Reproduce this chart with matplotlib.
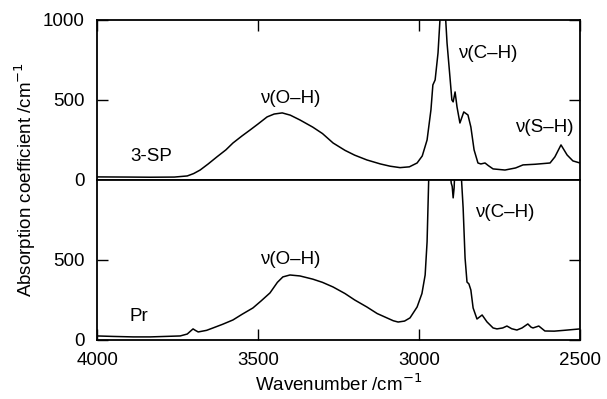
import matplotlib
matplotlib.use("Agg")
import matplotlib.pyplot as plt

plt.rcParams['font.family'] = ['Liberation Sans', 'DejaVu Sans']
plt.rcParams['font.size'] = 13.5

# 3-SP spectrum (wavenumber /cm-1, absorption coefficient /cm-1)
sp_x = [4000, 3900, 3835, 3760, 3720, 3700, 3680, 3655, 3628, 3600, 3578, 3550,
        3525, 3500, 3472, 3450, 3425, 3400, 3370, 3330, 3300, 3267, 3230, 3200,
        3162, 3120, 3090, 3059, 3030, 3006, 2990, 2975, 2963, 2957, 2950, 2941,
        2935, 2928, 2920, 2913, 2904, 2898, 2894, 2888, 2882, 2873, 2861, 2848,
        2839, 2829, 2817, 2808, 2795, 2785, 2770, 2733, 2700, 2677, 2640, 2593,
        2578, 2559, 2540, 2522, 2500]
sp_y = [19, 18, 17, 18, 25, 40, 62, 100, 144, 188, 231, 275,
        312, 350, 394, 412, 419, 405, 375, 330, 290, 231, 185, 155,
        125, 100, 86, 77, 82, 106, 150, 250, 438, 594, 625, 794,
        1000, 1150, 1100, 856, 644, 500, 488, 550, 456, 356, 425, 406,
        331, 188, 106, 100, 106, 90, 69, 62, 75, 94, 98, 106,
        144, 219, 156, 119, 106]

# Pr spectrum
pr_x = [4000, 3950, 3888, 3835, 3742, 3720, 3710, 3702, 3695, 3686, 3660, 3640,
        3610, 3578, 3550, 3516, 3490, 3463, 3440, 3423, 3401, 3370, 3330, 3300,
        3267, 3230, 3200, 3162, 3130, 3100, 3080, 3065, 3045, 3028, 3006, 2991,
        2981, 2975, 2970, 2960, 2905, 2900, 2897, 2894, 2891, 2888, 2875, 2868,
        2863, 2857, 2851, 2845, 2839, 2832, 2820, 2804, 2789, 2770, 2758, 2740,
        2727, 2712, 2696, 2680, 2662, 2652, 2646, 2628, 2609, 2580, 2550, 2500]
pr_y = [25, 22, 19, 19, 25, 37, 55, 69, 60, 50, 60, 75,
        98, 125, 160, 200, 245, 294, 360, 394, 406, 400, 380, 360,
        331, 290, 250, 206, 165, 138, 120, 112, 118, 138, 206, 290,
        406, 613, 1000, 1200, 1100, 980, 960, 888, 950, 1100, 1200, 1000,
        825, 512, 362, 350, 312, 200, 131, 156, 113, 75, 69, 75,
        87, 70, 62, 75, 100, 80, 75, 87, 56, 55, 60, 69]

fig = plt.figure(figsize=(6.07, 3.99), dpi=100)
ax1 = fig.add_axes([0.160, 0.549, 0.7955, 0.401])
ax2 = fig.add_axes([0.160, 0.148, 0.7955, 0.401], sharex=ax1)

ax1.plot(sp_x, sp_y, color='black', lw=1.1)
ax2.plot(pr_x, pr_y, color='black', lw=1.1)

for ax in (ax1, ax2):
    ax.set_xlim(4000, 2500)
    ax.set_ylim(0, 1000)
    ax.set_xticks([4000, 3500, 3000, 2500])
    for s in ax.spines.values():
        s.set_linewidth(1.3)
    ax.tick_params(direction='in', length=8, width=1.0, right=True)
    ax.tick_params(axis='y', pad=9)

ax1.set_yticks([0, 500, 1000])
ax1.tick_params(axis='x', top=True, bottom=False, labelbottom=False)
ax2.set_yticks([0, 500])
ax2.set_xlabel('Wavenumber /cm$^{-1}$', labelpad=3)
ax2.tick_params(axis='x', pad=9)

fig.text(0.042, 0.55, 'Absorption coefficient /cm$^{-1}$', rotation=90,
         ha='center', va='center')

ax1.text(3494, 506, 'ν(O–H)', ha='left', va='center')
ax1.text(2880, 790, 'ν(C–H)', ha='left', va='center')
ax1.text(2702, 325, 'ν(S–H)', ha='left', va='center')
ax1.text(3898, 144, '3-SP', ha='left', va='center')
ax2.text(3494, 500, 'ν(O–H)', ha='left', va='center')
ax2.text(2826, 794, 'ν(C–H)', ha='left', va='center')
ax2.text(3898, 144, 'Pr', ha='left', va='center')

fig.savefig('out.png', dpi=100)
